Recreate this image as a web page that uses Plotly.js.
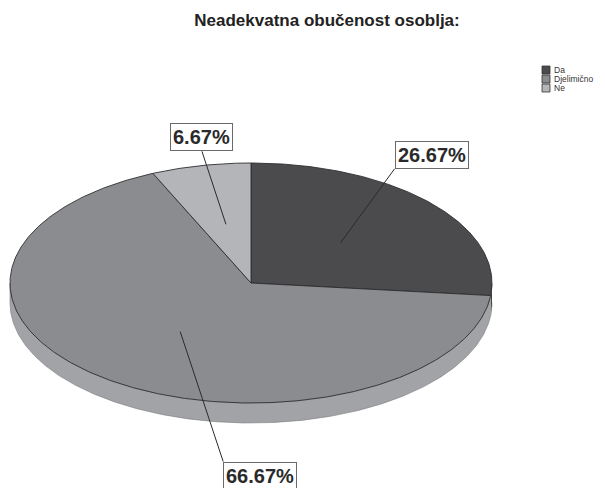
<!DOCTYPE html>
<html><head><meta charset="utf-8">
<script src="https://cdn.plot.ly/plotly-3.0.1.min.js"></script>
<style>html,body{margin:0;padding:0;background:#fff}</style>
</head><body><div id="chart" style="width:605px;height:488px"></div>
<script>
// ---- data ----
const categories = ["Da", "Djelimično", "Ne"];
const percentages = [26.67, 66.67, 6.67];
const labelTexts = ["26.67%", "66.67%", "6.67%"];
const titleText = "Neadekvatna obučenost osoblja:";

// ---- styles ----
const topColors = ["#4b4b4e", "#8b8c8f", "#b4b5b8"];
const sideColors = ["#3c3c3e", "#a2a3a6", "#c4c5c7"];
const FONT = "Liberation Sans, Arial, sans-serif";
const W = 605, H = 488;
const cx = 251, cy = 283, rx = 241, ry = 120, depthPx = 20;
const depth = depthPx / ry;
// label placement (pixel offsets of leader tail from head, box anchors)
const labelLayout = [
  {ax: 54, ay: -74, xanchor: "left", yanchor: "bottom"},
  {ax: 43, ay: 130, xanchor: "left", yanchor: "top"},
  {ax: -24, ay: -73, xanchor: "center", yanchor: "bottom"}
];

const total = percentages.reduce((a, b) => a + b, 0);
const rad = d => d * Math.PI / 180;

function arc(from, to) { // degrees, from > to (clockwise)
  const n = Math.max(2, Math.ceil((from - to) / 0.5));
  const xs = [], ys = [];
  for (let i = 0; i <= n; i++) {
    const t = rad(from - (from - to) * i / n);
    xs.push(Math.cos(t)); ys.push(Math.sin(t));
  }
  return {xs, ys};
}

const sideTraces = [], topTraces = [], annotations = [], shapes = [];
let cum = 0;
percentages.forEach((p, i) => {
  const span = p / total * 360;
  const aStart = 90 - cum / total * 360;
  const aEnd = aStart - span;
  cum += p;
  // visible side (front half, sin<=0)
  for (let k = -2; k <= 1; k++) {
    const hi = Math.min(aStart, k * 360), lo = Math.max(aEnd, k * 360 - 180);
    if (hi > lo) {
      const a = arc(hi, lo);
      const xs = a.xs.concat(a.xs.slice().reverse());
      const ys = a.ys.concat(a.ys.slice().reverse().map(v => v - depth));
      sideTraces.push({type: "scatter", mode: "lines", x: xs, y: ys, fill: "toself",
        fillcolor: sideColors[i], line: {color: "#7a7a7c", width: 0.6},
        hoverinfo: "skip", showlegend: false});
    }
  }
  const a = arc(aStart, aEnd);
  topTraces.push({type: "scatter", mode: "lines", name: categories[i],
    x: [0].concat(a.xs, [0]), y: [0].concat(a.ys, [0]), fill: "toself",
    fillcolor: topColors[i], line: {color: "#2e2e30", width: 0.9},
    hoverinfo: "name", showlegend: false});
  const mid = rad(aStart - span / 2);
  const L = labelLayout[i];
  annotations.push({x: 0.5 * Math.cos(mid), y: 0.5 * Math.sin(mid), xref: "x", yref: "y",
    text: "<b>" + labelTexts[i] + "</b>", showarrow: true, arrowhead: 0, arrowwidth: 1,
    arrowcolor: "#2a2a2a", ax: L.ax, ay: L.ay, xanchor: L.xanchor, yanchor: L.yanchor,
    standoff: 0, bgcolor: "#ffffff", bordercolor: "#6a6a6a", borderwidth: 1, borderpad: 2,
    font: {family: FONT, size: 20, color: "#2a2a2a"}});
  // legend
  const ly = 70 + i * 9;
  shapes.push({type: "rect", xref: "paper", yref: "paper",
    x0: 542 / W, x1: 550 / W, y0: 1 - (ly + 4) / H, y1: 1 - (ly - 4) / H,
    fillcolor: topColors[i], line: {color: "#333", width: 0.8}});
  annotations.push({xref: "paper", yref: "paper", x: 552 / W, y: 1 - ly / H,
    xanchor: "left", yanchor: "middle", showarrow: false, text: categories[i],
    font: {family: FONT, size: 8.5, color: "#333"}});
});

const layout = {
  width: W, height: H, margin: {l: 0, r: 0, t: 0, b: 0, pad: 0},
  paper_bgcolor: "#ffffff", plot_bgcolor: "#ffffff",
  title: {text: "<b>" + titleText + "</b>", x: 327 / W, xanchor: "center",
    y: 1 - 20 / H, yanchor: "middle", yref: "container",
    font: {family: FONT, size: 17, color: "#222"}},
  xaxis: {range: [-cx / rx, (W - cx) / rx], visible: false, fixedrange: true},
  yaxis: {range: [-(H - cy) / ry, cy / ry], visible: false, fixedrange: true},
  annotations: annotations, shapes: shapes, showlegend: false
};

Plotly.newPlot("chart", sideTraces.concat(topTraces), layout, {displayModeBar: false, staticPlot: true});
</script></body></html>
